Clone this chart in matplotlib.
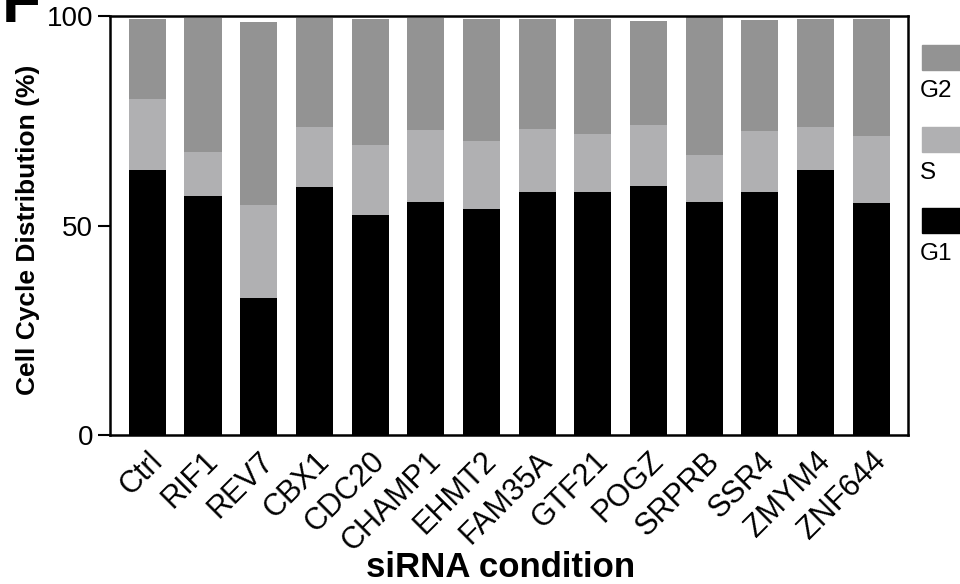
import matplotlib
matplotlib.use('Agg')
import matplotlib.pyplot as plt
from matplotlib.patches import Rectangle
import numpy as np

plt.rcParams['font.family'] = ['Liberation Sans', 'DejaVu Sans']

conditions = ['Ctrl', 'RIF1', 'REV7', 'CBX1', 'CDC20', 'CHAMP1', 'EHMT2',
              'FAM35A', 'GTF21', 'POGZ', 'SRPRB', 'SSR4', 'ZMYM4', 'ZNF644']
g1 = [63.2, 57.0, 32.7, 59.2, 52.5, 55.6, 53.9, 58.0, 58.0, 59.4, 55.6, 58.0, 63.2, 55.4]
s_phase = [17.0, 10.5, 22.2, 14.3, 16.7, 17.2, 16.3, 15.0, 13.8, 14.6, 11.2, 14.6, 10.3, 16.0]
g2 = [19.1, 32.1, 43.7, 26.1, 30.1, 26.8, 29.1, 26.3, 27.5, 24.8, 33.2, 26.4, 25.8, 27.9]

phase_labels = ['G2', 'S', 'G1']
phase_colors = ['#939393', '#b0b0b2', '#000000']

fig = plt.figure(figsize=(9.6, 5.84), dpi=100)
ax = fig.add_axes([0.1146, 0.2551, 0.8312, 0.7175])

x = np.arange(len(conditions))
w = 0.665
ax.bar(x, g1, w, color=phase_colors[2])
ax.bar(x, s_phase, w, bottom=g1, color=phase_colors[1])
ax.bar(x, g2, w, bottom=np.array(g1) + np.array(s_phase), color=phase_colors[0])

ax.set_xlim(-0.67, 13.66)
ax.set_ylim(0, 100)
ax.set_yticks([0, 50, 100])
ax.tick_params(axis='y', labelsize=20, length=9, width=1.5, pad=3)
ax.tick_params(axis='x', length=0, pad=8)
ax.set_xticks(x)
ax.set_xticklabels(conditions, rotation=45, ha='right', rotation_mode='anchor', fontsize=22)
for sp in ax.spines.values():
    sp.set_linewidth(1.8)

ax.set_ylabel('Cell Cycle Distribution (%)', fontsize=19, fontweight='bold')
ax.yaxis.set_label_coords(-0.088, 0.49)
ax.set_xlabel('siRNA condition', fontsize=25, fontweight='bold')
ax.xaxis.set_label_coords(0.49, -0.276)

# legend: colour box with label underneath
box_tops = [45, 127, 208]
for lab, col, top in zip(phase_labels, phase_colors, box_tops):
    fig.patches.append(Rectangle((922 / 960, 1 - (top + 25) / 584), 40 / 960, 25 / 584,
                                 transform=fig.transFigure, color=col, clip_on=False))
    fig.text(920 / 960, 1 - (top + 46) / 584, lab, fontsize=17.5, ha='left', va='center')

# clipped panel letter
fig.text(2 / 960, 1 - 22 / 584, 'F', fontsize=46, fontweight='bold', ha='left', va='baseline')

fig.savefig('out.png', dpi=100)
